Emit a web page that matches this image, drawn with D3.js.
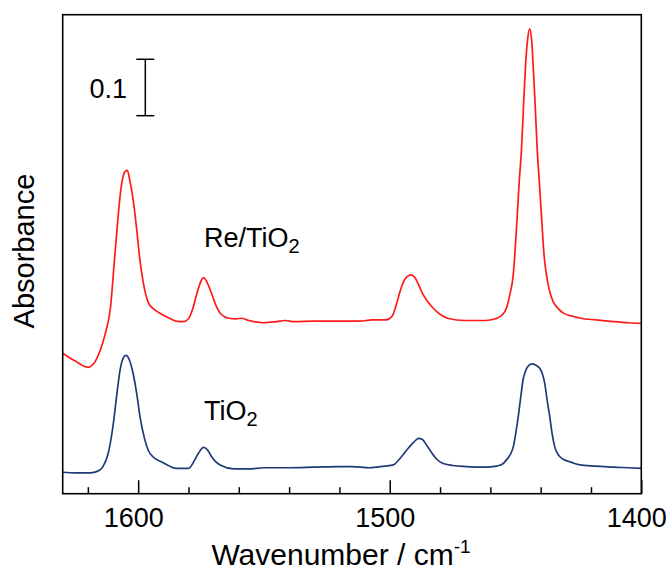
<!DOCTYPE html>
<html><head><meta charset="utf-8">
<script src="https://cdn.jsdelivr.net/npm/d3@7"></script>
<style>body{margin:0;background:#fff}svg{display:block}text{font-family:"Liberation Sans",Arial,sans-serif;fill:#000}</style>
</head><body><svg id="c" width="671" height="574"></svg>
<script>
const reWn = [1630,1625,1620,1617,1615,1613,1611,1609.5,1608,1607,1606,1605,1604.3,1603.3,1602,1600.5,1599.3,1598,1596,1594,1591,1588,1585,1582,1580,1578.5,1576.5,1575,1574,1573,1571,1569,1567,1564,1561,1559,1556,1550,1545,1541.5,1538,1530,1520,1512,1507,1501.5,1499,1497.5,1496,1494.5,1493,1491.5,1490,1488.5,1487,1485,1483,1480,1477,1470,1462,1458,1455,1453.6,1452.3,1450.9,1449.3,1448.5,1447.6,1446.8,1446,1445.2,1444.4,1443.6,1443,1442.2,1441.4,1440.5,1439.7,1438.6,1437.7,1436.5,1435,1433,1431,1427,1424,1418,1411,1405,1400];
const reAbs = [0.249,0.235,0.224,0.235,0.255,0.285,0.330,0.410,0.490,0.535,0.562,0.572,0.573,0.555,0.521,0.465,0.414,0.375,0.339,0.328,0.319,0.312,0.306,0.305,0.310,0.325,0.357,0.377,0.383,0.378,0.357,0.333,0.318,0.311,0.310,0.311,0.307,0.303,0.305,0.307,0.305,0.306,0.306,0.306,0.308,0.308,0.315,0.333,0.357,0.376,0.385,0.388,0.383,0.370,0.355,0.341,0.330,0.318,0.311,0.307,0.307,0.310,0.318,0.329,0.352,0.388,0.494,0.555,0.612,0.690,0.760,0.805,0.824,0.805,0.760,0.690,0.612,0.550,0.494,0.420,0.388,0.360,0.340,0.328,0.320,0.314,0.311,0.308,0.305,0.303,0.302];
const tiWn = [1630,1625,1619,1616,1614,1612,1610,1608.5,1607.2,1606,1604.8,1603.5,1602,1600.5,1599.3,1597.5,1596,1594,1591,1588,1585,1580,1577.5,1576,1574,1572.5,1571,1569,1567,1562,1556,1550,1540,1530,1520,1515,1508,1502,1498.6,1496,1493.3,1490.5,1488.5,1487,1485.5,1484,1481.5,1479,1475,1469.5,1462,1457.5,1455,1453.6,1452,1450.9,1449.8,1448.9,1447.9,1447,1446,1445,1443.5,1442,1440.3,1439.3,1438.4,1437.4,1436.4,1435.4,1434.4,1433,1431,1428,1424.4,1418,1411,1405,1400];
const tiAbs = [0.038,0.037,0.037,0.040,0.048,0.070,0.120,0.175,0.219,0.240,0.245,0.237,0.213,0.175,0.137,0.098,0.077,0.065,0.057,0.050,0.045,0.045,0.060,0.072,0.082,0.078,0.067,0.056,0.050,0.044,0.044,0.046,0.046,0.047,0.048,0.048,0.046,0.049,0.051,0.062,0.077,0.091,0.098,0.096,0.087,0.077,0.062,0.054,0.050,0.048,0.047,0.049,0.053,0.060,0.070,0.083,0.110,0.137,0.172,0.202,0.218,0.226,0.230,0.228,0.222,0.212,0.196,0.165,0.137,0.105,0.083,0.069,0.061,0.056,0.051,0.049,0.047,0.046,0.045];
const majorTicks = [1600,1500,1400];
const minorTicks = [1620,1580,1560,1540,1520,1480,1460,1440,1420];
const xDomain = [1630,1400];
const yDomain = [0,0.849];
const scaleBarValue = 0.1;

const L=62.7,R=641.3,T=14.7,B=493.7;
const svg=d3.select("#c");
const x=d3.scaleLinear().domain(xDomain).range([L,R]);
const y=d3.scaleLinear().domain(yDomain).range([B,T]);

const line=d3.line().x(d=>x(d[0])).y(d=>y(d[1])).curve(d3.curveMonotoneX);
svg.append("path").datum(reWn.map((w,i)=>[w,reAbs[i]])).attr("d",line)
  .attr("fill","none").attr("stroke","#ff1a1a").attr("stroke-width",1.7);
svg.append("path").datum(tiWn.map((w,i)=>[w,tiAbs[i]])).attr("d",line)
  .attr("fill","none").attr("stroke","#1f3a78").attr("stroke-width",1.7);

// frame
svg.append("rect").attr("x",L).attr("y",T).attr("width",R-L).attr("height",B-T)
  .attr("fill","none").attr("stroke","#000").attr("stroke-width",1.6);

// bottom axis, ticks inward
const axMaj=d3.axisBottom(x).tickValues(majorTicks).tickSize(-13.5).tickFormat(d3.format("d"));
const gMaj=svg.append("g").attr("transform",`translate(0,${B})`).call(axMaj);
gMaj.select(".domain").remove();
gMaj.selectAll(".tick line").attr("stroke","#000").attr("stroke-width",1.5);
gMaj.selectAll(".tick text").attr("font-size",27).attr("dy",0).attr("y",33).attr("dx",-5)
  .style("font-family","'Liberation Sans',Arial,sans-serif").attr("fill","#000");
const axMin=d3.axisBottom(x).tickValues(minorTicks).tickSize(-6.5).tickFormat("");
const gMin=svg.append("g").attr("transform",`translate(0,${B})`).call(axMin);
gMin.select(".domain").remove();
gMin.selectAll(".tick line").attr("stroke","#000").attr("stroke-width",1.5);

// axis titles
const xt=svg.append("text").attr("x",341).attr("y",565).attr("text-anchor","middle").attr("font-size",30);
xt.append("tspan").text("Wavenumber / cm");
xt.append("tspan").text("-1").attr("font-size",19).attr("dy",-12);
svg.append("text").attr("transform","translate(34,251) rotate(-90)").attr("text-anchor","middle")
  .attr("font-size",29).text("Absorbance");

// scale bar
const sbTop=0.770, sbX=145.3;
svg.append("line").attr("x1",sbX).attr("x2",sbX).attr("y1",y(sbTop)).attr("y2",y(sbTop-scaleBarValue)).attr("stroke","#000").attr("stroke-width",1.5);
[sbTop,sbTop-scaleBarValue].forEach(v=>svg.append("line").attr("x1",sbX-9).attr("x2",sbX+9).attr("y1",y(v)).attr("y2",y(v)).attr("stroke","#000").attr("stroke-width",1.5));
svg.append("text").attr("x",127).attr("y",98).attr("text-anchor","end").attr("font-size",27).text(String(scaleBarValue));

// labels
function lab(px,py,main){
  const t=svg.append("text").attr("x",px).attr("y",py).attr("font-size",27);
  t.append("tspan").text(main);
  t.append("tspan").text("2").attr("font-size",20).attr("dy",6);
}
lab(204,247,"Re/TiO");
lab(204,420,"TiO");
</script></body></html>
